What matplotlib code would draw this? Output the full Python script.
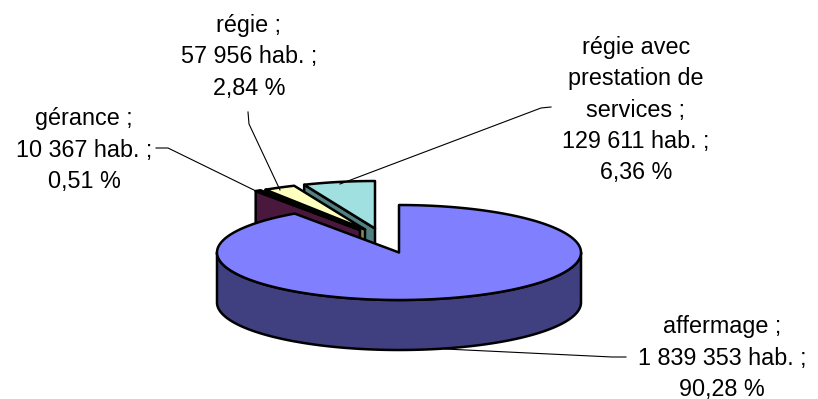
import numpy as np
import matplotlib
matplotlib.use("Agg")
import matplotlib.pyplot as plt
from matplotlib.patches import Polygon

# ---- data ----
categories = ["affermage", "gérance", "régie", "régie avec\nprestation de\nservices"]
habitants = [1839353, 10367, 57956, 129611]
hab_labels = ["1 839 353 hab.", "10 367 hab.", "57 956 hab.", "129 611 hab."]
pct_labels = ["90,28 %", "0,51 %", "2,84 %", "6,36 %"]

# ---- style ----
top_colors = ["#8080FF", "#6E1E4E", "#FFFFC0", "#A0E0E0"]
side_colors = ["#404080", "#4A183C", "#8A8A60", "#508080"]
offsets = [(0, 0), (-39, -22.5), (-34, -23), (-24, -24)]   # explosion (px)
CX, CY, A, B, H = 399, 252.5, 182, 47.5, 50
label_xy = [(722, 358), (84, 150), (249, 57), (636, 110)]
leaders = [
    [(445, 349), (612, 357), (626, 357)],
    [(156, 148), (168, 148), (258, 192)],
    [(248, 112), (249, 124), (280, 190)],
    [(551, 107), (541, 108), (340, 184)],
]

plt.rcParams['font.family'] = ['Liberation Sans', 'DejaVu Sans']
fig = plt.figure(figsize=(8.18, 3.99), dpi=100)
ax = fig.add_axes([0, 0, 1, 1])
ax.set_xlim(0, 818)
ax.set_ylim(399, 0)
ax.axis('off')

vals = np.array(habitants, dtype=float)
frac = vals / vals.sum()
cum = np.concatenate([[0], np.cumsum(frac)])
start_deg = 90.0


def pt(t, dx, dy, z=0.0):
    r = np.radians(t)
    return (CX + dx + A * np.cos(r), CY + dy - B * np.sin(r) + z)


def arc(t0, t1, dx, dy, z=0.0, n=None):
    if n is None:
        n = max(3, int(abs(t1 - t0) * 2) + 2)
    ts = np.linspace(t0, t1, n)
    return [pt(t, dx, dy, z) for t in ts]


kw = dict(edgecolor="black", linewidth=1.8, joinstyle="round")

order = sorted(range(len(vals)), key=lambda i: CY + offsets[i][1])
for i in order:
    hi = start_deg - cum[i] * 360.0
    lo = start_deg - cum[i + 1] * 360.0
    dx, dy = offsets[i]
    apex = (CX + dx, CY + dy)
    apex_b = (CX + dx, CY + dy + H)
    # radial faces
    for t, vis in ((hi, np.cos(np.radians(hi)) < -1e-6), (lo, np.cos(np.radians(lo)) > 1e-6)):
        if vis:
            p, pb = pt(t, dx, dy), pt(t, dx, dy, H)
            ax.add_patch(Polygon([apex, p, pb, apex_b], closed=True,
                                 facecolor=side_colors[i], **kw))
    # curved outer side (front half only)
    for k in range(-2, 2):
        a0, a1 = max(lo, 180 + 360 * k), min(hi, 360 + 360 * k)
        if a1 > a0:
            poly = arc(a0, a1, dx, dy) + arc(a1, a0, dx, dy, H)
            ax.add_patch(Polygon(poly, closed=True, facecolor=side_colors[i], **kw))
    # top face
    poly = [apex] + arc(lo, hi, dx, dy)
    ax.add_patch(Polygon(poly, closed=True, facecolor=top_colors[i], **kw))

# leader lines and labels
for i in range(len(vals)):
    xs, ys = zip(*leaders[i])
    ax.plot(xs, ys, color="black", linewidth=0.8)
    txt = f"{categories[i]} ;\n{hab_labels[i]} ;\n{pct_labels[i]}"
    ax.text(label_xy[i][0], label_xy[i][1], txt, ha="center", va="center",
            multialignment="center", fontsize=16.8, linespacing=1.45, color="black")

fig.savefig("out.png", dpi=100, facecolor="white")
